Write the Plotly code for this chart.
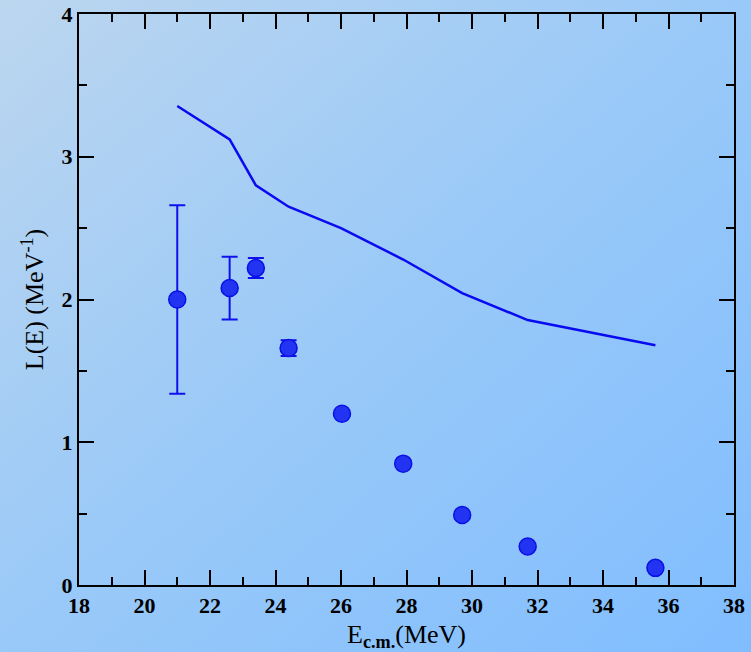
import base64
import plotly.graph_objects as go

# Data
energy_exp = [21.0, 22.6, 23.4, 24.4, 26.03, 27.9, 29.7, 31.7, 35.6]
L_exp = [2.00, 2.08, 2.22, 1.66, 1.20, 0.85, 0.49, 0.27, 0.12]
L_err = [0.66, 0.22, 0.07, 0.055, 0, 0, 0, 0, 0]

energy_th = [21.0, 22.6, 23.4, 24.4, 26.0, 27.9, 29.7, 31.7, 35.6]
L_th = [3.356, 3.122, 2.80, 2.65, 2.50, 2.28, 2.045, 1.856, 1.68]

x_ticks = [18, 20, 22, 24, 26, 28, 30, 32, 34, 36, 38]
y_ticks = [0, 1, 2, 3, 4]

W, H = 751, 652
left, right, top, bottom = 79, 734, 14, 585

svg = f'''<svg xmlns="http://www.w3.org/2000/svg" width="{W}" height="{H}" viewBox="0 0 {W} {H}" preserveAspectRatio="none">
<defs><linearGradient id="g" x1="0" y1="0" x2="1" y2="1">
<stop offset="0" stop-color="#bcd6ef"/>
<stop offset="0.5" stop-color="#99c9f8"/>
<stop offset="1" stop-color="#80bdff"/>
</linearGradient></defs>
<rect width="{W}" height="{H}" fill="url(#g)"/></svg>'''
bg_uri = "data:image/svg+xml;base64," + base64.b64encode(svg.encode()).decode()

fig = go.Figure()
fig.add_trace(go.Scatter(
    x=energy_th, y=L_th, mode="lines",
    line=dict(color="#0a0af0", width=2.5), showlegend=False,
))
fig.add_trace(go.Scatter(
    x=energy_exp, y=L_exp, mode="markers",
    marker=dict(size=17, color="#2333f2", line=dict(color="#0a10e6", width=1.5)),
    error_y=dict(type="data", array=L_err, visible=True, color="#1010ee",
                 thickness=2, width=8),
    showlegend=False,
))

font_tick = dict(family="Liberation Serif", size=22, color="black")
axis_common = dict(
    showline=True, linecolor="black", linewidth=2, mirror="ticks",
    ticks="inside", ticklen=15, tickwidth=2, tickcolor="black",
    showgrid=False, zeroline=False, tickfont=font_tick, automargin=False,
)

fig.update_layout(
    width=W, height=H,
    margin=dict(l=0, r=0, t=0, b=0),
    paper_bgcolor="rgba(0,0,0,0)",
    plot_bgcolor="rgba(0,0,0,0)",
    images=[dict(source=bg_uri, xref="paper", yref="paper", x=0, y=1,
                 sizex=1, sizey=1, sizing="stretch", layer="below",
                 xanchor="left", yanchor="top")],
    xaxis=dict(
        **axis_common,
        domain=[left / W, right / W],
        range=[18, 38], tickvals=x_ticks, ticktext=[f"<b>{v}</b>" for v in x_ticks],
        minor=dict(dtick=1, ticklen=8, tickwidth=2, tickcolor="black", ticks="inside"),
        title=dict(text="E<sub><b>c.m.</b></sub>(MeV)",
                   font=dict(family="Liberation Serif", size=26, color="black"),
                   standoff=8),
    ),
    yaxis=dict(
        **axis_common,
        domain=[1 - bottom / H, 1 - top / H],
        range=[0, 4], tickvals=y_ticks, ticktext=[f"<b>{v}</b>" for v in y_ticks],
        minor=dict(dtick=0.5, ticklen=8, tickwidth=2, tickcolor="black", ticks="inside"),
        title=dict(text="L(E) (MeV<sup>-1</sup>)",
                   font=dict(family="Liberation Serif", size=26, color="black"),
                   standoff=10),
    ),
)

fig.write_html("out.html")
